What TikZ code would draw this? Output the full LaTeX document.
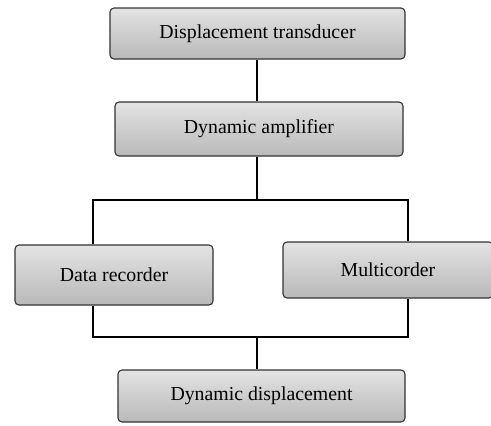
\documentclass[tikz,border=0pt]{standalone}
\usepackage{fontspec}
\setmainfont{Liberation Serif}
\begin{document}
\begin{tikzpicture}[x=1pt,y=-1pt,
  box/.style={rectangle, rounded corners=4pt, draw=black!80, line width=1.1pt,
    top color=gray!22, bottom color=gray!55, inner sep=0pt,
    font=\fontsize{19.8}{22}\selectfont},
  link/.style={draw=black, line width=1.4pt}]
\clip (0,0) rectangle (491,426);
\useasboundingbox (0,0) rectangle (491,426);
\node[box, minimum width=295pt, minimum height=51pt] (b1) at (257.5,33.5) {Displacement transducer};
\node[box, minimum width=288pt, minimum height=54pt] (b2) at (259,129) {Dynamic amplifier};
\node[box, minimum width=198pt, minimum height=60pt] (b3) at (114,275) {Data recorder};
\node[box, minimum width=210pt, minimum height=56pt] (b4) at (388,270) {Multicorder};
\node[box, minimum width=287pt, minimum height=52pt] (b5) at (261.5,396) {Dynamic displacement};
\coordinate (sx) at (257,0);
\coordinate (lx) at (93,0);
\coordinate (rx) at (408,0);
\coordinate (t) at (257,200);
\coordinate (bt) at (257,337);
\draw[link] (b1.south -| sx) -- (b2.north -| sx);
\draw[link] (b2.south -| sx) -- (t);
\draw[link] (b3.north -| lx) |- (t) -| (b4.north -| rx);
\draw[link] (b3.south -| lx) |- (bt) -| (b4.south -| rx);
\draw[link] (bt) -- (b5.north -| bt);
\end{tikzpicture}
\end{document}
